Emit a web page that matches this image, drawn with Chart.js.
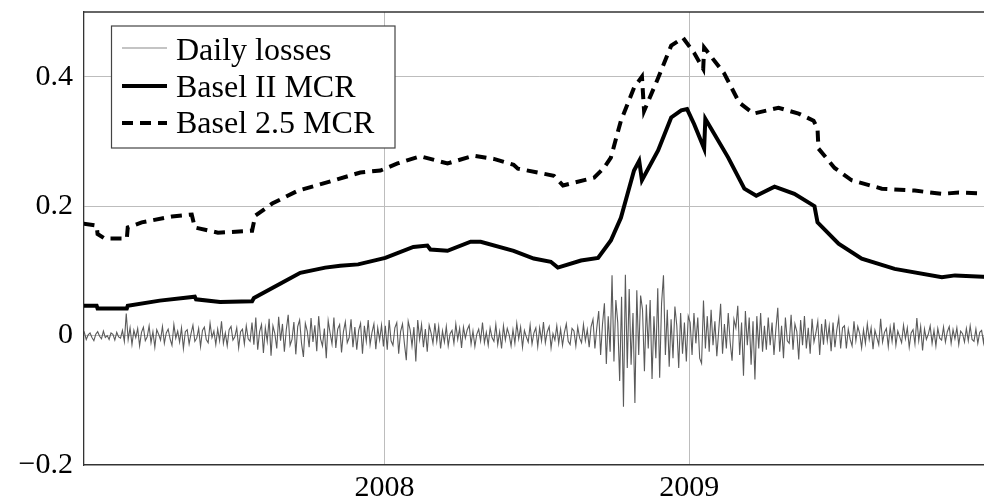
<!DOCTYPE html>
<html>
<head>
<meta charset="utf-8">
<script src="https://cdn.jsdelivr.net/npm/chart.js@4.4.0/dist/chart.umd.min.js"></script>
<style>
  html, body { margin: 0; padding: 0; background: #fff; overflow: hidden; }
  #wrap { width: 1000px; height: 504px; }
</style>
</head>
<body>
<div id="wrap"><canvas id="mcrChart" width="1000" height="504"></canvas></div>
<script>
// Tick values
const xTicks = [2008, 2009];
const yTicks = [-0.2, 0, 0.2, 0.4];

// Basel II MCR (x in decimal years)
const basel2X = [2007.013, 2007.056, 2007.059, 2007.155, 2007.158, 2007.263, 2007.378, 2007.382, 2007.461,
  2007.566, 2007.572, 2007.658, 2007.724, 2007.806, 2007.855, 2007.914, 2008.003, 2008.095, 2008.141,
  2008.151, 2008.207, 2008.283, 2008.316, 2008.424, 2008.490, 2008.546, 2008.569, 2008.645, 2008.701,
  2008.743, 2008.776, 2008.819, 2008.836, 2008.845, 2008.898, 2008.941, 2008.974, 2008.993, 2009.016,
  2009.049, 2009.053, 2009.128, 2009.181, 2009.220, 2009.280, 2009.345, 2009.411, 2009.421, 2009.490,
  2009.566, 2009.674, 2009.829, 2009.872, 2010.0];
const basel2Y = [0.046, 0.046, 0.042, 0.042, 0.046, 0.054, 0.060, 0.056, 0.052,
  0.053, 0.058, 0.080, 0.097, 0.105, 0.108, 0.110, 0.120, 0.137, 0.139,
  0.133, 0.131, 0.145, 0.145, 0.131, 0.119, 0.114, 0.105, 0.116, 0.120,
  0.147, 0.182, 0.255, 0.270, 0.240, 0.286, 0.337, 0.348, 0.350, 0.327,
  0.289, 0.335, 0.275, 0.227, 0.216, 0.230, 0.219, 0.200, 0.175, 0.142,
  0.119, 0.103, 0.090, 0.093, 0.090];

// Basel 2.5 MCR
const basel25X = [2007.013, 2007.056, 2007.059, 2007.082, 2007.155, 2007.158, 2007.204, 2007.303, 2007.368,
  2007.378, 2007.454, 2007.566, 2007.576, 2007.632, 2007.717, 2007.806, 2007.921, 2007.987, 2008.043,
  2008.118, 2008.207, 2008.293, 2008.359, 2008.424, 2008.438, 2008.503, 2008.556, 2008.586, 2008.688,
  2008.720, 2008.743, 2008.776, 2008.819, 2008.845, 2008.852, 2008.898, 2008.941, 2008.980, 2009.016,
  2009.046, 2009.049, 2009.115, 2009.164, 2009.211, 2009.293, 2009.359, 2009.408, 2009.421, 2009.424,
  2009.477, 2009.533, 2009.632, 2009.740, 2009.829, 2009.885, 2010.0];
const basel25Y = [0.173, 0.170, 0.157, 0.150, 0.150, 0.167, 0.175, 0.184, 0.187,
  0.167, 0.159, 0.162, 0.185, 0.204, 0.224, 0.236, 0.252, 0.255, 0.266,
  0.277, 0.266, 0.278, 0.273, 0.264, 0.258, 0.252, 0.247, 0.232, 0.244,
  0.259, 0.275, 0.332, 0.383, 0.400, 0.347, 0.398, 0.448, 0.460, 0.437,
  0.412, 0.445, 0.405, 0.360, 0.343, 0.352, 0.343, 0.332, 0.320, 0.289,
  0.259, 0.240, 0.227, 0.224, 0.219, 0.221, 0.219];

// Daily losses, in thousandths, 160 readings per year
const losses2007 = [3, -2, 5, -6, 1, 4, -3, -8, 2, 6, -1, -5, 7, -3, 0, -6, 4, 2, -7, 5, -2, -4, 8, -9,
  34, -6, 12,
  -14, 8, -3, 11, -16, 5, 13, -8, -2, 15, -11, 6, -18, 9, 2, -7, 14, -12, 4, 10,
  -5, -15, 17, -4, 7, -10, 12, -20, 6, 9, -13, 3, 16, -9, -4, 11, -17, 8, 13, -6,
  -11, 19, -3, 7, -14, 10, -8, 22, -12, 4, -16, 9, 14, -7, -2, 12, -19, 6, 10, -13, 15, -5, -9,
  20, -14, 28, -22, 6, 17, -27, 12, -9, 26, -31, 15, 3, -20, 29, -8, 18, -25, 9, 32,
  -15, -6, 21, -29, 14, 24, -12, -33, 19, 7, -18, 27, -10, 16, -24, 30, -5, -16, 11, -35,
  23, 4, -13, 28, -19, 10, 17, -26, 6, 21, -11, -3, 25, -18, 13, -22, 8, 19, -28, 15,
  -9, 24, -14, 5, 18, -21, 12, -7, 16, -17];
const losses2008 = [15, -22, 24, -8, -15, 12, 20, -28, 6, 18, -12, -38, 22, 9, -16, 13, -40, 24, -6, 17,
  -18, 10, -25, 16, 4, -12, 19, -9, 14, -20, 7,
  -10, 14, -16, 3, 8, -12, 18, -6, 11, -19, 13, -4, 9, 16, -13, 7, -17, 2, 10, -8,
  20, -11, 5, -15, 12, -3, -9, 17, -14, 6, -20, 15, -7, 11, 1, -16, 9, -12, 19, -5,
  13, -18, 8, -2, -10, 16, -13, 4, 12, -17, 12, -8, 21, -11, 6, 14, -19, 3, -7, 15,
  -12, 10, -15, 5, 18, -9, -14, 11, 7, -16, 13, -4, -11, 17, -8, 9, -18, 14,
  25, -20, 12, 38, -30, 18, 50, -44, 30, -25,
  93, -40, 55, 20, -70, 60, -110, 94, -50, 72, -45, 35, -104, 70, -30, 62, 40, -55, 48, -20,
  55, -67, 30, -35, 73, -65, 50,
  93, -30, 40, -48, 25, -35, 45, 15, -50, 35, -28, 20, -40, 30];
const losses2009 = [20, -30, 35, -12, 28, -35, -43, 54, -20, 30, -25, 40, -15, 22, -32, 8, 49, -28, 18, -20,
  35, -10, -39, 25, 12, 46, -30, 20, -62, 38, -15, 28, -45, 22, -68, 30, -20, 35, -25, 15,
  -22, 28, -15, 20, -30, 10, 43, -25, 15, -35, 28, -8, -12, 32, -22, 18, 6, -37, 24, -15,
  30, -20, 12, -28, 26, -10, 4, 22, -30, 18, -14, 25, -8, 15, -24, 20, -18, 9, 27, -20, 12,
  15, -20, 10, -6, -16, 22, -8, 14, 3, -19, 9, -12, 18, -6, 12, -21, 8, -3, -14, 26,
  -10, 5, 11, -17, 13, -9, 20, -15, 7, -2, -11, 16, -5, 12, -18, 4, 9, -13, 27, -8,
  14, -23, 10, -6, 2, 15, -12, 8, -16, 11, -4, -7, 13, -10, 6, 14, -12, 9, -5, 12,
  -14, 7, 3, -10, 11, -8, 15, -6, -9, 10, -12, 5, 8, -11, 13, -7, 4, -9, 10];

const FONT = '"Liberation Serif", "Times New Roman", serif';

function pairs(xs, ys) {
    return xs.map((x, i) => ({ x: x, y: ys[i] }));
}

function lossPoints() {
    let pts = [];
    [[2007, losses2007], [2008, losses2008], [2009, losses2009]].forEach(([year, vals]) => {
        vals.forEach((v, i) => pts.push({ x: year + (i + 0.5) / vals.length, y: v / 1000 }));
    });
    return pts;
}

// legend box drawn inside the plot, plus the top frame line
const boxLegend = {
    id: 'boxLegend',
    afterDraw(chart) {
        const ctx = chart.ctx;
        const area = chart.chartArea;
        ctx.save();
        ctx.strokeStyle = '#333';
        ctx.lineWidth = 1.3;
        ctx.beginPath();
        ctx.moveTo(area.left, area.top);
        ctx.lineTo(area.right, area.top);
        ctx.stroke();

        const bx = 111.5, by = 26, bw = 283.5, bh = 122;
        ctx.fillStyle = '#fff';
        ctx.fillRect(bx, by, bw, bh);
        ctx.strokeStyle = '#444';
        ctx.lineWidth = 1.2;
        ctx.strokeRect(bx, by, bw, bh);

        const lineY = [48, 86, 123];
        const textY = [60, 96.5, 133];
        ctx.font = '32px ' + FONT;
        ctx.textBaseline = 'alphabetic';
        ctx.textAlign = 'left';
        chart.data.datasets.forEach((ds, i) => {
            ctx.strokeStyle = ds.legendColor || ds.borderColor;
            ctx.lineWidth = ds.borderWidth;
            ctx.setLineDash(ds.borderDash || []);
            ctx.beginPath();
            ctx.moveTo(122, lineY[i]);
            ctx.lineTo(167, lineY[i]);
            ctx.stroke();
            ctx.setLineDash([]);
            ctx.fillStyle = '#000';
            ctx.fillText(ds.label, 176, textY[i]);
        });
        ctx.restore();
    }
};

function drawChart() {
    let ctx = document.getElementById('mcrChart').getContext('2d');
    window.mcrChart = new Chart(ctx, {
        type: 'line',
        data: {
            datasets: [
                {
                    label: 'Daily losses',
                    data: lossPoints(),
                    borderColor: '#5a5a5a',
                    legendColor: '#8a8a8a',
                    borderWidth: 1.1,
                    pointRadius: 0,
                    fill: false
                },
                {
                    label: 'Basel II MCR',
                    data: pairs(basel2X, basel2Y),
                    borderColor: '#000',
                    borderWidth: 4,
                    pointRadius: 0,
                    fill: false
                },
                {
                    label: 'Basel 2.5 MCR',
                    data: pairs(basel25X, basel25Y),
                    borderColor: '#000',
                    borderWidth: 4,
                    borderDash: [11, 7],
                    pointRadius: 0,
                    fill: false
                }
            ]
        },
        options: {
            responsive: false,
            animation: false,
            layout: { padding: { top: 12, right: 6, left: 0, bottom: 0 } },
            plugins: {
                legend: { display: false },
                tooltip: { enabled: false }
            },
            scales: {
                x: {
                    type: 'linear',
                    min: 2007.0145,
                    max: 2010.0,
                    afterBuildTicks: (scale) => { scale.ticks = xTicks.map(v => ({ value: v })); },
                    afterFit: (scale) => {
                        scale.height = 39;
                        scale.paddingLeft = 0;
                        scale.paddingRight = 0;
                    },
                    grid: { color: '#bdbdbd', lineWidth: 1, drawTicks: false },
                    border: { color: '#333', width: 1.3 },
                    ticks: {
                        padding: 5,
                        color: '#000',
                        font: { family: FONT, size: 30 },
                        callback: (v) => String(v)
                    }
                },
                y: {
                    min: -0.2,
                    max: 0.5,
                    afterBuildTicks: (scale) => { scale.ticks = yTicks.map(v => ({ value: v })); },
                    afterFit: (scale) => {
                        scale.width = 84;
                        scale.paddingTop = 0;
                        scale.paddingBottom = 0;
                    },
                    grid: { color: '#bdbdbd', lineWidth: 1, drawTicks: false },
                    border: { color: '#333', width: 1.3 },
                    ticks: {
                        padding: 11,
                        color: '#000',
                        font: { family: FONT, size: 30 },
                        callback: (v) => v < 0 ? '\u2212' + String(-v) : String(v)
                    }
                }
            }
        },
        plugins: [boxLegend]
    });
}

document.addEventListener('DOMContentLoaded', drawChart);
</script>
</body>
</html>
